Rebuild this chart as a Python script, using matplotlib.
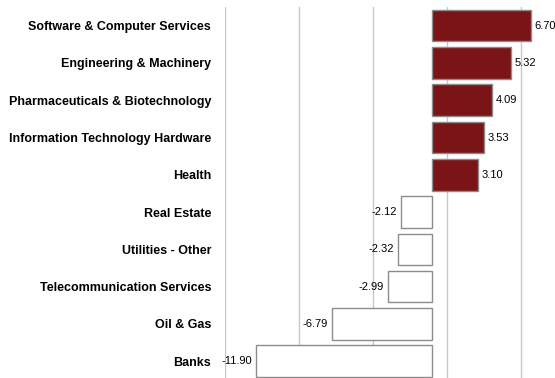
import matplotlib
matplotlib.use("Agg")
import matplotlib.pyplot as plt

# Sector returns (%)
sectors = ["Software & Computer Services", "Engineering & Machinery",
           "Pharmaceuticals & Biotechnology", "Information Technology Hardware",
           "Health", "Real Estate", "Utilities - Other",
           "Telecommunication Services", "Oil & Gas", "Banks"]
values = [6.70, 5.32, 4.09, 3.53, 3.10, -2.12, -2.32, -2.99, -6.79, -11.90]
grid_x = [-14, -9, -4, 1, 6]

plt.rcParams["font.family"] = ["Liberation Sans", "DejaVu Sans"]

fig = plt.figure(figsize=(5.55, 3.78), dpi=100)
ax = fig.add_axes([225 / 555, 0, 310.4 / 555, 1 - 7 / 378])

pos = list(range(len(sectors)))
colors = ["#7b1416" if v > 0 else "white" for v in values]
ax.barh(pos, values, height=0.85, color=colors, edgecolor="#8c8c8c", linewidth=1, zorder=3)

for g in grid_x:
    ax.axvline(g, color="#c8c8c8", linewidth=1, zorder=1)

for p, v in zip(pos, values):
    if v > 0:
        ax.text(v + 0.25, p, f"{v:.2f}", va="center", ha="left", fontsize=8, zorder=4)
    else:
        ax.text(v - 0.25, p, f"{v:.2f}", va="center", ha="right", fontsize=8, zorder=4)

ax.set_xlim(-14, 7)
ax.set_ylim(9.45, -0.5)
ax.set_yticks(pos)
ax.set_yticklabels(sectors, fontsize=9, fontweight="bold")
ax.set_xticks([])
ax.tick_params(axis="y", length=0, pad=10)
for s in ax.spines.values():
    s.set_visible(False)

fig.savefig("out.png", dpi=100)
